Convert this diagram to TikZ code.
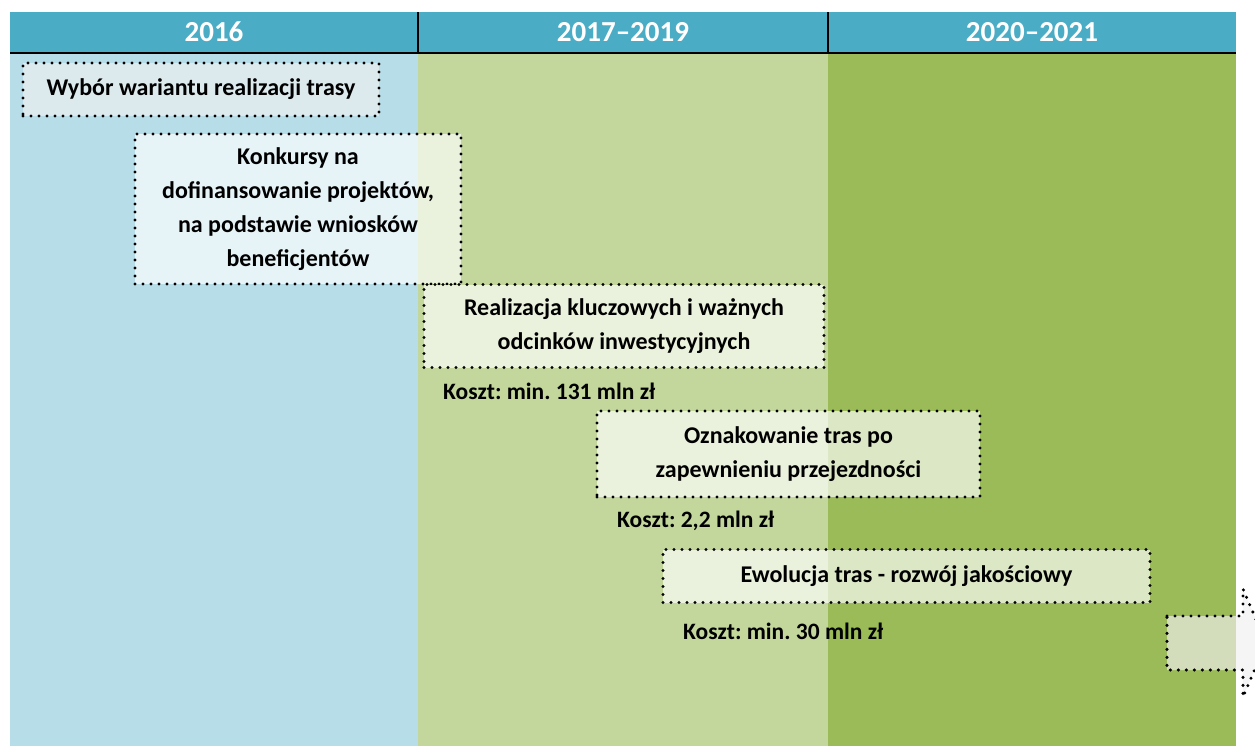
\documentclass[tikz,border=0pt]{standalone}
\usepackage{fontspec}
\setmainfont{Carlito}
\frenchspacing
\definecolor{headblue}{HTML}{4BACC6}
\definecolor{colblue}{HTML}{B7DDE8}
\definecolor{collgreen}{HTML}{C3D69B}
\definecolor{coldgreen}{HTML}{9BBB59}
\tikzset{
  stagebox/.style={draw=black, line width=3.4pt, dash pattern=on 0pt off 8pt,
    line cap=round, fill=white, fill opacity=0.66, text opacity=1,
    align=center, inner sep=0pt, font=\fontsize{24}{34}\selectfont\bfseries},
  costlabel/.style={anchor=west, inner sep=0pt, font=\fontsize{23.5}{26}\selectfont\bfseries},
  yearlabel/.style={text=white, inner sep=0pt, font=\fontsize{29}{32}\selectfont\bfseries}
}
\begin{document}
\begin{tikzpicture}[x=1pt,y=-1pt]
\useasboundingbox (0,0) rectangle (1255,746);

% column backgrounds
\fill[colblue] (10,53) rectangle (418,746);
\fill[collgreen] (418,53) rectangle (828,746);
\fill[coldgreen] (828,53) rectangle (1236,746);

% header bar with year ranges
\fill[headblue] (10,12) rectangle (1236,53);
\draw[line width=2pt] (10,53) -- (1236,53);
\draw[line width=2pt] (418,12) -- (418,53);
\draw[line width=2pt] (828,12) -- (828,53);
\node[yearlabel] (y2016) at (214,32) {2016};
\node[yearlabel] (y2017) at (623,32) {2017–2019};
\node[yearlabel] (y2020) at (1032,32) {2020–2021};

% stages
\node[stagebox, fill=black!6, minimum width=356pt, minimum height=53pt]
  (wybor) at (201,89.5) {Wybór wariantu realizacji trasy};
\node[stagebox, minimum width=326pt, minimum height=150pt]
  (konkursy) at (298,209) {Konkursy na\\dofinansowanie projektów,\\na podstawie wniosków\\beneficjentów};
\node[stagebox, minimum width=400pt, minimum height=83pt]
  (realizacja) at (624,326) {Realizacja kluczowych i ważnych\\odcinków inwestycyjnych};
\node[stagebox, minimum width=383pt, minimum height=86pt]
  (oznakowanie) at (788.5,454) {Oznakowanie tras po\\zapewnieniu przejezdności};
\node[stagebox, minimum width=487pt, minimum height=53pt]
  (ewolucja) at (906.5,576) {Ewolucja tras - rozwój jakościowy};

% costs
\node[costlabel] (koszt1) at (443,391) {Koszt: min. 131 mln zł};
\node[costlabel] (koszt2) at (617,521) {Koszt: 2,2 mln zł};
\node[costlabel] (koszt3) at (683,631) {Koszt: min. 30 mln zł};

% continuation arrow, cut by the page edge
\begin{scope}
\clip (0,0) rectangle (1255,746);
\draw[stagebox, fill=black!6] (1167,616) -- (1243,616) -- (1243,589) -- (1266,643)
  -- (1243,697) -- (1243,670) -- (1167,670) -- cycle;
\end{scope}
\end{tikzpicture}
\end{document}
